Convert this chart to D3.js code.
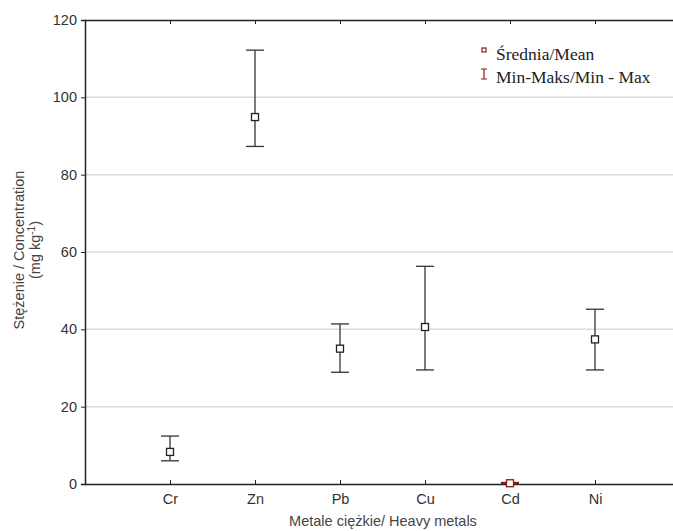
<!DOCTYPE html>
<html>
<head>
<meta charset="utf-8">
<script src="https://cdnjs.cloudflare.com/ajax/libs/d3/7.8.5/d3.min.js"></script>
<style>
  body { margin:0; background:#fff; }
  svg { display:block; }
</style>
</head>
<body>
<svg id="chart" width="673" height="531"></svg>
<script>
// metals, means and min/max
var metals = ["Cr", "Zn", "Pb", "Cu", "Cd", "Ni"];
var means  = [8.3, 94.9, 35.0, 40.6, 0.2, 37.4];
var mins   = [6.0, 87.3, 28.9, 29.5, 0.1, 29.5];
var maxs   = [12.4, 112.2, 41.4, 56.3, 0.4, 45.2];
var yTicks = [0, 20, 40, 60, 80, 100, 120];

var svg = d3.select("#chart");

var plotLeft = 85, plotTop = 20, plotBottom = 484;
var sans = "'Liberation Sans', Arial, sans-serif";
var serif = "'Liberation Serif', 'Times New Roman', serif";

// one empty slot either side of the metals, like the original
var slots = [""].concat(metals).concat([" "]);
var x = d3.scalePoint().domain(slots).range([plotLeft, plotLeft + 85 * 7]);
var y = d3.scaleLinear().domain([0, 120]).range([plotBottom, plotTop]);

// grid lines
svg.append("g")
   .selectAll("line")
   .data(yTicks.slice(1, -1))
   .enter().append("line")
   .attr("x1", plotLeft).attr("x2", 673)
   .attr("y1", function(d) { return y(d); })
   .attr("y2", function(d) { return y(d); })
   .style("stroke", "#dcdcdc")
   .style("stroke-width", "1.5px");

// y axis
var yAxis = svg.append("g")
   .attr("transform", "translate(" + plotLeft + ",0)")
   .call(d3.axisLeft(y).tickValues(yTicks).tickSize(4).tickPadding(4));
yAxis.select(".domain").style("stroke", "#222").style("stroke-width", "1.5px");
yAxis.selectAll("line").style("stroke", "#222");
yAxis.selectAll("text")
   .style("font-family", sans)
   .style("font-size", "14.5px")
   .style("fill", "#333");

// bottom axis, ticks pointing inward
var xAxis = svg.append("g")
   .attr("transform", "translate(0," + plotBottom + ")")
   .call(d3.axisBottom(x).tickValues(metals).tickSize(-4).tickSizeOuter(0).tickPadding(10));
xAxis.select(".domain").style("stroke", "#222").style("stroke-width", "1.5px");
xAxis.selectAll("line").style("stroke", "#222");
xAxis.selectAll("text")
   .style("font-family", sans)
   .style("font-size", "14.5px")
   .style("fill", "#333");

// top axis, no labels
var xTop = svg.append("g")
   .attr("transform", "translate(0," + plotTop + ")")
   .call(d3.axisTop(x).tickValues(metals).tickSize(-4).tickSizeOuter(0).tickFormat(""));
xTop.select(".domain").style("stroke", "#222").style("stroke-width", "1.5px");
xTop.selectAll("line").style("stroke", "#222");

// error bars
var capW = 9;
var bars = svg.append("g").selectAll("g")
   .data(metals)
   .enter().append("g")
   .style("stroke", function(d) { return d == "Cd" ? "#8b1a1a" : "#333"; })
   .style("stroke-width", "1.3px");

bars.append("line")
   .attr("x1", function(d) { return x(d); })
   .attr("x2", function(d) { return x(d); })
   .attr("y1", function(d, i) { return y(mins[i]); })
   .attr("y2", function(d, i) { return y(maxs[i]); });
bars.append("line")
   .attr("x1", function(d) { return x(d) - capW; })
   .attr("x2", function(d) { return x(d) + capW; })
   .attr("y1", function(d, i) { return y(maxs[i]); })
   .attr("y2", function(d, i) { return y(maxs[i]); });
bars.append("line")
   .attr("x1", function(d) { return x(d) - capW; })
   .attr("x2", function(d) { return x(d) + capW; })
   .attr("y1", function(d, i) { return y(mins[i]); })
   .attr("y2", function(d, i) { return y(mins[i]); });
bars.append("rect")
   .attr("x", function(d) { return x(d) - 3.5; })
   .attr("y", function(d, i) { return y(means[i]) - 3.5; })
   .attr("width", 7).attr("height", 7)
   .style("fill", "#fff")
   .style("stroke", function(d) { return d == "Cd" ? "#8b1a1a" : "#222"; });

// axis titles
var yt = svg.append("text")
   .attr("transform", "translate(24,250) rotate(-90)")
   .attr("text-anchor", "middle")
   .style("font-family", sans)
   .style("font-size", "14.5px")
   .style("fill", "#444");
yt.append("tspan").attr("x", 0).attr("y", 0).text("Stężenie / Concentration");
var t2 = yt.append("tspan").attr("x", 0).attr("y", 16).text("(mg kg");
t2.append("tspan").attr("dy", -5).style("font-size", "10px").text("-1");
t2.append("tspan").attr("dy", 5).text(")");

svg.append("text")
   .attr("x", 383).attr("y", 526)
   .attr("text-anchor", "middle")
   .style("font-family", sans)
   .style("font-size", "14.5px")
   .style("fill", "#444")
   .text("Metale ciężkie/ Heavy metals");

// legend
var legend = svg.append("g").attr("transform", "translate(484,50)");
legend.append("rect")
   .attr("x", -2).attr("y", -2).attr("width", 4).attr("height", 4)
   .style("fill", "#fff").style("stroke", "#8b1a1a").style("stroke-width", "1.2px");
legend.append("path")
   .attr("d", "M-3,19 h6 M0,19 v10 M-3,29 h6")
   .style("stroke", "#8b1a1a").style("fill", "none").style("stroke-width", "1.2px");
legend.append("text")
   .attr("x", 12).attr("y", 10)
   .style("font-family", serif)
   .style("font-size", "17.5px")
   .style("fill", "#222")
   .text("Średnia/Mean");
legend.append("text")
   .attr("x", 12).attr("y", 33)
   .style("font-family", serif)
   .style("font-size", "17.5px")
   .style("fill", "#222")
   .text("Min-Maks/Min - Max");
</script>
</body>
</html>
